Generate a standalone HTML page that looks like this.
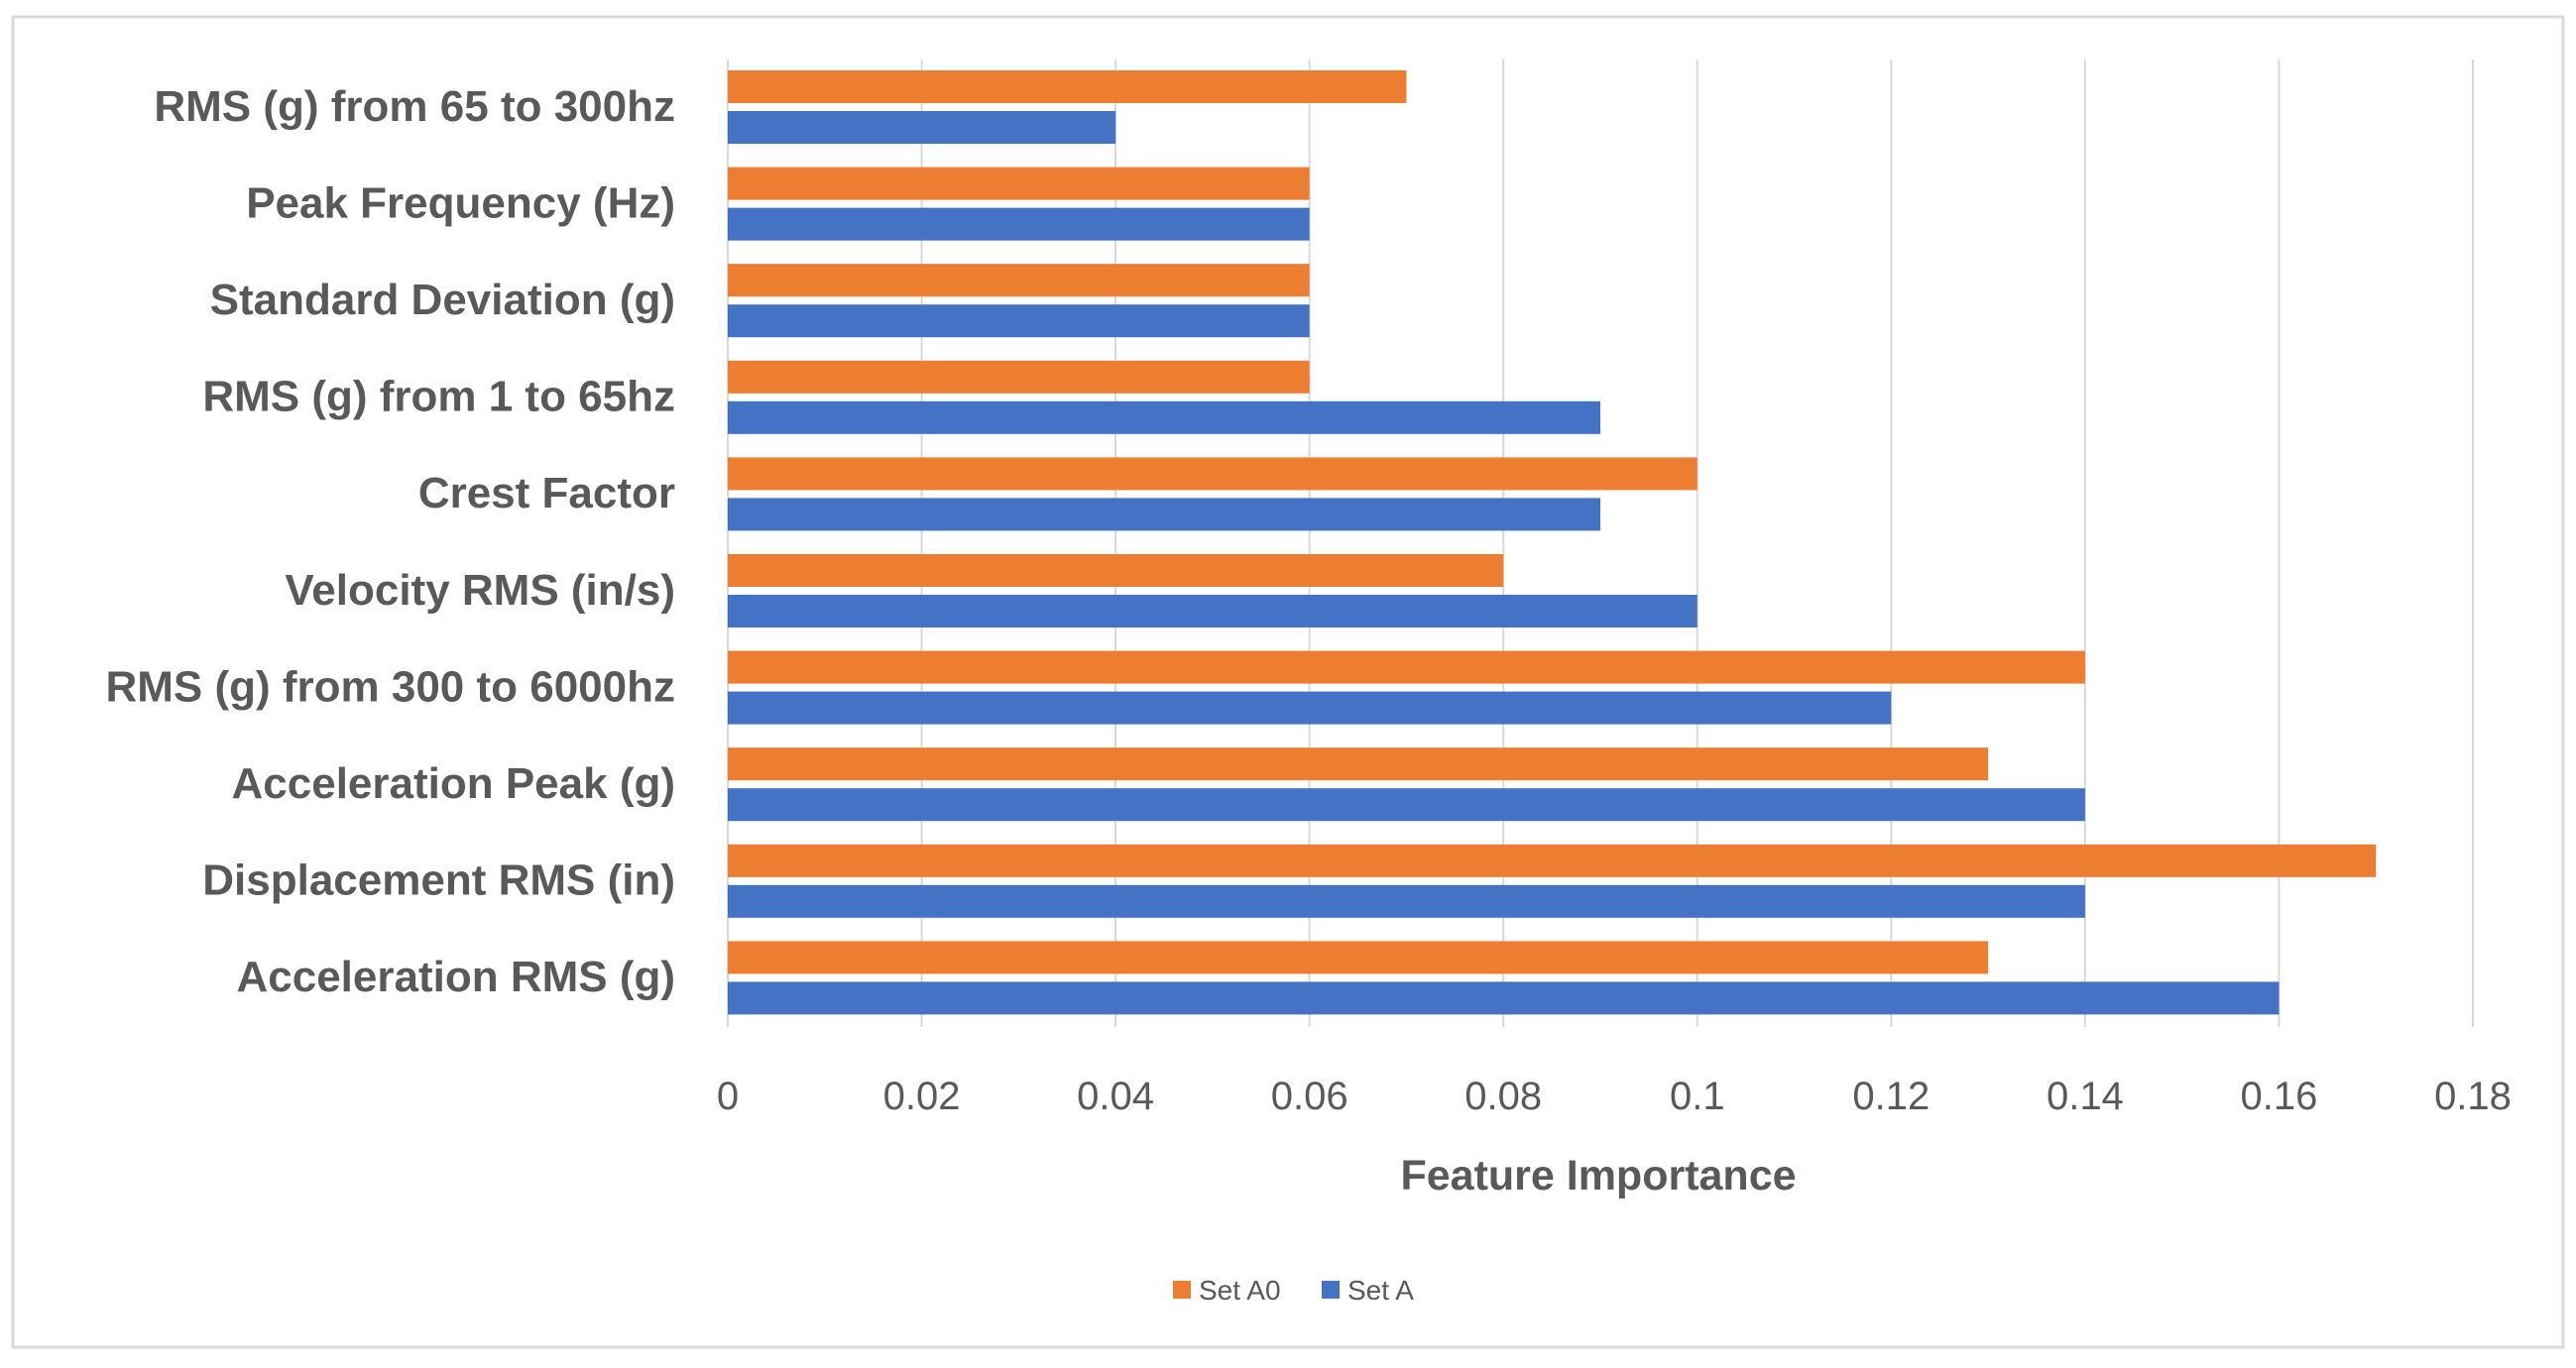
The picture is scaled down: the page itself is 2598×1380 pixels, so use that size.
<!DOCTYPE html>
<html><head><meta charset="utf-8"><style>
html,body{margin:0;padding:0;background:#fff;}
svg{display:block;font-family:"Liberation Sans",sans-serif;}
</style></head><body>
<svg id="chart" width="2598" height="1380" viewBox="0 0 2598 1380">
<rect x="13" y="17" width="2572" height="1342" fill="#fff" stroke="#d9d9d9" stroke-width="3"/>
<g id="grid"></g>
<g id="bars"></g>
<g id="ylabels"></g>
<g id="xticks"></g>
<text x="1612" y="1200" text-anchor="middle" font-size="43" font-weight="bold" fill="#595959">Feature Importance</text>
<g>
<g>
<rect x="1183" y="1292" width="18" height="18" fill="#ED7D31"/>
<text x="1209" y="1311" font-size="28" fill="#595959">Set A0</text>
</g>
<g>
<rect x="1333" y="1292" width="18" height="18" fill="#4472C4"/>
<text x="1359" y="1311" font-size="28" fill="#595959">Set A</text>
</g>
</g>
</svg>
<script>
const categories = ["RMS (g) from 65 to 300hz","Peak Frequency (Hz)","Standard Deviation (g)","RMS (g) from 1 to 65hz","Crest Factor","Velocity RMS (in/s)","RMS (g) from 300 to 6000hz","Acceleration Peak (g)","Displacement RMS (in)","Acceleration RMS (g)"];
const setA0 = [0.07,0.06,0.06,0.06,0.10,0.08,0.14,0.13,0.17,0.13];
const setA = [0.04,0.06,0.06,0.09,0.09,0.10,0.12,0.14,0.14,0.16];
const ticks = [0,0.02,0.04,0.06,0.08,0.1,0.12,0.14,0.16,0.18];
const tickLabels = ["0","0.02","0.04","0.06","0.08","0.1","0.12","0.14","0.16","0.18"];

const NS = "http://www.w3.org/2000/svg";
const X0 = 734, X1 = 2494, XMAX = 0.18, TOP = 60, BOT = 1036;
const band = (BOT - TOP) / categories.length;
function xs(v){ return X0 + (X1 - X0) * v / XMAX; }
function mk(tag, attrs, parent){ const e = document.createElementNS(NS, tag); for (const k in attrs) e.setAttribute(k, attrs[k]); parent.appendChild(e); return e; }

const grid = document.getElementById('grid');
const xt = document.getElementById('xticks');
ticks.forEach((t, i) => {
  const l = mk('line', {x1: xs(t), x2: xs(t), y1: TOP, y2: BOT, stroke: '#d9d9d9', 'stroke-width': 2}, grid);
  
  
  const tx = mk('text', {x: xs(t), y: 1119, 'text-anchor': 'middle', 'font-size': 40, fill: '#595959'}, xt);
  tx.textContent = tickLabels[i];
  
  
});

const bars = document.getElementById('bars');
const yl = document.getElementById('ylabels');
categories.forEach((c, i) => {
  const y0 = TOP + i * band;
  const ro = mk('rect', {x: X0, y: y0 + 11, width: xs(setA0[i]) - X0, height: 33, fill: '#ED7D31'}, bars);
  
  
  const rb = mk('rect', {x: X0, y: y0 + 52, width: xs(setA[i]) - X0, height: 33, fill: '#4472C4'}, bars);
  
  
  const t = mk('text', {x: 681, y: y0 + band / 2 + 13, 'text-anchor': 'end', 'font-size': 44, 'font-weight': 'bold', fill: '#595959'}, yl);
  t.textContent = c;
  
  
});
</script>
</body></html>
